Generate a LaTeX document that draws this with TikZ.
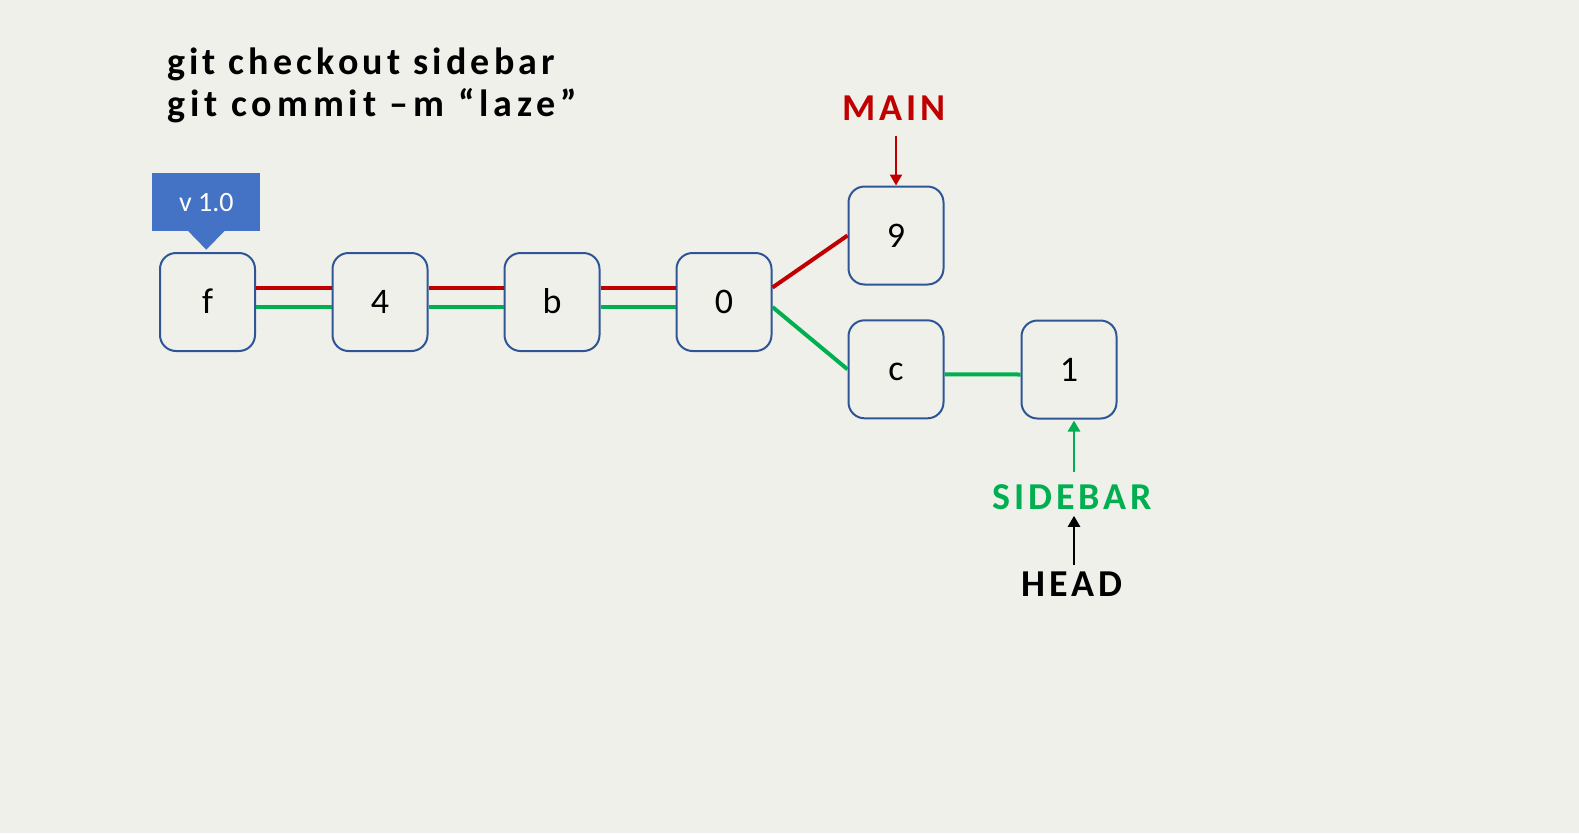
\documentclass[tikz,border=0pt]{standalone}
\usepackage{fontspec}
\setmainfont{Carlito}
\newfontfamily\spacedbold[LetterSpace=10,BoldFont={Carlito Bold}]{Carlito}
\newfontfamily\cmdonebold[LetterSpace=11,BoldFont={Carlito Bold}]{Carlito}
\newfontfamily\cmdtwobold[LetterSpace=13,BoldFont={Carlito Bold}]{Carlito}
\usetikzlibrary{arrows.meta}
\definecolor{bgc}{RGB}{240,240,235}
\definecolor{boxc}{RGB}{47,85,151}
\definecolor{redc}{RGB}{192,0,0}
\definecolor{greenc}{RGB}{0,176,80}
\definecolor{tagc}{RGB}{68,114,196}
\tikzset{
  commit/.style={draw=boxc, line width=2pt, fill=bgc, rounded corners=16pt,
    minimum width=95pt, minimum height=98pt, inner sep=0pt,
    text height=23pt, text depth=0pt,
    font=\fontsize{36}{40}\selectfont},
  redline/.style={draw=redc, line width=4pt},
  greenline/.style={draw=greenc, line width=4pt},
  label/.style={inner sep=0pt, font=\fontsize{38}{44}\selectfont\spacedbold\bfseries},
  cmdtext/.style={anchor=base west, inner sep=0pt},
  ptr/.style={line width=2.5pt, -{Triangle[length=11pt,width=12pt]}},
}
\begin{document}
\begin{tikzpicture}[x=1pt,y=-1pt]
\fill[bgc] (0,0) rectangle (1579,833);
\useasboundingbox (0,0) rectangle (1579,833);

% command text
\node[cmdtext, font=\fontsize{38}{44}\selectfont\cmdonebold\bfseries] (cmd1) at (167,74) {git checkout sidebar};
\node[cmdtext, font=\fontsize{38}{44}\selectfont\cmdtwobold\bfseries] (cmd2) at (167,116) {git commit –m “laze”};

% commits
\node[commit] (nf) at (207.5,302) {f};
\node[commit] (n4) at (380,302) {4};
\node[commit] (nb) at (552,302) {b};
\node[commit] (n0) at (724,302) {0};
\node[commit] (n9) at (896,235.5) {9};
\node[commit] (nc) at (896,369.3) {c};
\node[commit] (n1) at (1069,369.5) {1};

% connectors
\foreach \a/\b in {nf/n4, n4/nb, nb/n0}{
  \draw[redline] ([yshift=14.5pt]\a.east) -- ([yshift=14.5pt]\b.west);
  \draw[greenline] ([yshift=-4.5pt]\a.east) -- ([yshift=-4.5pt]\b.west);
}
\draw[redline] ([yshift=14.5pt]n0.east) -- (n9.west);
\draw[greenline] ([yshift=-5pt]n0.east) -- (nc.west);
\draw[greenline] ([yshift=-5pt]nc.east) -- ([yshift=-5pt]n1.west);

% tag
\node[fill=tagc, minimum width=108pt, minimum height=58pt, inner sep=0pt, text=white,
  text height=18pt, text depth=0pt,
  font=\fontsize{28}{30}\selectfont] (tag) at (206.3,202) {v 1.0};
\fill[tagc] ([xshift=-18pt]tag.south) -- ([xshift=18pt]tag.south) -- ([yshift=-18.5pt]tag.south) -- cycle;

% MAIN
\node[label, text=redc] (main) at (894,108) {MAIN};
\draw[ptr, redc] ([yshift=-15pt]main.south -| n9.north) -- (n9.north);

% SIDEBAR and HEAD
\node[label, text=greenc] (sidebar) at (1072,497) {SIDEBAR};
\node[label, text=black] (head) at (1072,584) {HEAD};
\coordinate (ax) at (1074,0);
\draw[ptr, greenc] ([yshift=12pt]sidebar.north -| ax) -- ([yshift=-1pt]n1.south -| ax);
\draw[ptr, black] ([yshift=6pt]head.north -| ax) -- ([yshift=-6pt]sidebar.south -| ax);
\end{tikzpicture}
\end{document}
